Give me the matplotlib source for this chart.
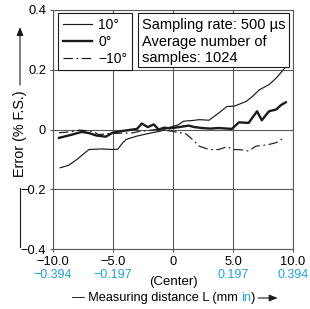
import matplotlib
matplotlib.use("Agg")
import matplotlib.pyplot as plt
import matplotlib.transforms as mtransforms
from matplotlib.lines import Line2D
from matplotlib.patches import Rectangle
from matplotlib.text import OffsetFrom

plt.rcParams["font.family"] = ["Liberation Sans", "DejaVu Sans"]

# curvas (mm, % F.S.)
x_10 = [-9.4, -8.7, -8.0, -7.4, -7.0, -6.0, -5.0, -4.6, -4.2, -3.9, -3.0, -2.0,
        -1.0, -0.3, 0.4, 0.9, 1.6, 2.2, 3.0, 3.8, 4.5, 5.1, 6.1, 6.6, 7.2, 8.0,
        8.6, 9.3]
y_10 = [-0.128, -0.12, -0.10, -0.08, -0.067, -0.065, -0.067, -0.066, -0.045,
        -0.033, -0.022, -0.013, -0.005, 0.007, 0.015, 0.028, 0.030, 0.033,
        0.031, 0.055, 0.077, 0.078, 0.094, 0.110, 0.133, 0.150, 0.172, 0.205]

x_0 = [-9.5, -8.5, -7.6, -7.0, -6.4, -5.6, -5.05, -4.4, -3.7, -3.0, -2.6, -2.1,
       -1.6, -1.2, -0.75, -0.3, 0.5, 1.3, 1.8, 2.4, 3.1, 3.8, 4.9, 5.5, 6.3,
       7.0, 7.4, 8.0, 8.6, 9.0, 9.4]
y_0 = [-0.028, -0.018, -0.008, -0.012, -0.020, -0.024, -0.011, -0.006, -0.002,
       0.002, 0.020, 0.008, 0.017, 0.000, 0.006, 0.004, 0.008, 0.013, 0.008,
       0.005, 0.003, 0.005, 0.002, 0.024, 0.022, 0.061, 0.031, 0.061, 0.067,
       0.082, 0.091]

x_m10 = [-9.5, -8.6, -7.8, -6.7, -6.2, -5.5, -5.0, -4.0, -3.3, -2.8, -2.0, -1.4,
         -0.6, 0.0, 0.5, 1.0, 1.3, 1.8, 2.2, 3.0, 3.8, 4.5, 5.1, 5.7, 6.3, 6.9,
         7.5, 8.0, 8.6, 9.25]
y_m10 = [-0.011, -0.008, -0.002, -0.006, -0.017, -0.014, -0.013, -0.012, -0.011,
         -0.006, -0.003, 0.000, -0.003, -0.006, -0.011, -0.012, -0.022, -0.040,
         -0.056, -0.067, -0.067, -0.058, -0.067, -0.068, -0.072, -0.056, -0.053,
         -0.050, -0.044, -0.028]

xticks_mm = [-10, -5, 0, 5, 10]
xtick_labels = ["\u221210.0", "\u22125.0", "0", "5.0", "10.0"]
xtick_in = ["\u22120.394", "\u22120.197", "", "0.197", "0.394"]
yticks = [-0.4, -0.2, 0, 0.2, 0.4]
ytick_labels = ["\u22120.4", "\u22120.2", "0", "0.2", "0.4"]
legend_labels = ["10\u00b0", "0\u00b0", "\u221210\u00b0"]
info_lines = ["Sampling rate: 500 \u00b5s", "Average number of", "samples: 1024"]

AZUL = "#1fa3e3"
GRIS = "#5a5a5a"
NEGRO = "#1a1a1a"

fig = plt.figure(figsize=(3.10, 3.09), dpi=100)
ax = fig.add_axes([53 / 310, 1 - 249 / 309, 240 / 310, 239 / 309])

ax.plot(x_10, y_10, color=NEGRO, lw=0.85, label=legend_labels[0])
ax.plot(x_0, y_0, color=NEGRO, lw=1.7, label=legend_labels[1])
ax.plot(x_m10, y_m10, color=NEGRO, lw=0.85, linestyle=(0, (8, 3, 1.5, 3)),
        label=legend_labels[2])

ax.set_xlim(-10, 10)
ax.set_ylim(-0.4, 0.4)
ax.set_xticks(xticks_mm)
ax.set_xticklabels(xtick_labels, fontsize=9.3)
ax.set_yticks(yticks)
ax.set_yticklabels(ytick_labels, fontsize=9.3)
ax.tick_params(direction="out", length=2.5, width=0.8, color=GRIS, pad=2.5)
ax.grid(True, color=GRIS, lw=0.8)
ax.set_axisbelow(True)
for lado in ax.spines.values():
    lado.set_color(GRIS)
    lado.set_linewidth(0.8)

# segunda fila de etiquetas en pulgadas
trans = mtransforms.blended_transform_factory(ax.transData, ax.transAxes)
for xv, etiqueta in zip(xticks_mm, xtick_in):
    if etiqueta:
        ax.text(xv, -0.109, etiqueta, transform=trans, ha="center", va="center",
                fontsize=9, color=AZUL, clip_on=False)
ax.text(0, -0.137, "(Center)", transform=trans, ha="center", va="center",
        fontsize=9.5, clip_on=False)

leg = ax.legend(loc="upper left", bbox_to_anchor=(0.021, 0.987),
                borderaxespad=0, fontsize=10, fancybox=False, framealpha=1,
                edgecolor=NEGRO, handlelength=2.1, handletextpad=0.45,
                labelspacing=0.2, borderpad=0.35)
leg.get_frame().set_linewidth(0.8)

ax.add_patch(Rectangle((0.354, 0.761), 0.629, 0.226, transform=ax.transAxes,
                       facecolor="white", edgecolor=NEGRO, lw=0.8, zorder=5))
for yv, linea in zip([0.937, 0.866, 0.799], info_lines):
    ax.text(0.371, yv, linea, transform=ax.transAxes, ha="left", va="center",
            fontsize=10.5, zorder=6)

# rotulo del eje x con "in" en azul y flecha
t1 = fig.text(71.7 / 310, 1 - 298 / 309, "\u2014 Measuring distance L (mm ",
              ha="left", va="center", fontsize=9.2)
t2 = ax.annotate("in", xy=(1, 0), xycoords=t1, va="bottom", fontsize=9.2,
                 color=AZUL, annotation_clip=False)
t3 = ax.annotate(")", xy=(1, 0), xycoords=t2, va="bottom", fontsize=9.2,
                 annotation_clip=False)
ax.annotate("", xy=(16, 0), xycoords=OffsetFrom(t3, (1, 0.5)),
            xytext=(2, 0), textcoords=OffsetFrom(t3, (1, 0.5)),
            arrowprops=dict(arrowstyle="-|>,head_length=0.5,head_width=0.2",
                            color=NEGRO, lw=0.8, shrinkA=0, shrinkB=0),
            annotation_clip=False)

# rotulo del eje y con linea y flecha
fig.text(20 / 310, 1 - 134 / 309, "Error (% F.S.)", rotation=90,
         ha="center", va="center", fontsize=10.3)
fig.add_artist(Line2D([20 / 310, 20 / 310], [1 - 188 / 309, 1 - 247 / 309],
                      color=NEGRO, lw=0.8, transform=fig.transFigure))
ax.annotate("", xy=(20, 309 - 27), xycoords="figure pixels",
            xytext=(20, 309 - 85), textcoords="figure pixels",
            arrowprops=dict(arrowstyle="-|>,head_length=0.5,head_width=0.2",
                            color=NEGRO, lw=0.8, shrinkA=0, shrinkB=0),
            annotation_clip=False)

fig.savefig("out.png", dpi=100)
